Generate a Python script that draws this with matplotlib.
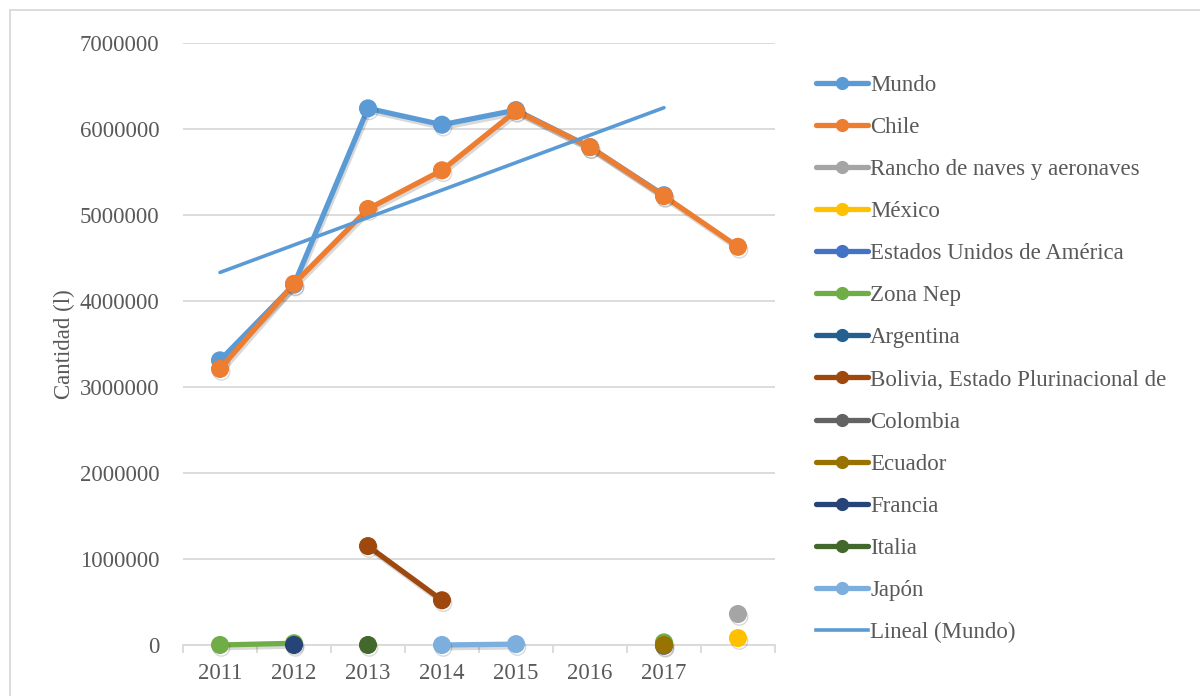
import numpy as np
import matplotlib
matplotlib.use("Agg")
import matplotlib.pyplot as plt
from matplotlib.lines import Line2D
import matplotlib.patheffects as pe

plt.rcParams['font.family'] = ['Liberation Serif', 'DejaVu Serif']

# Categories (8th position has no label in the original)
years = ['2011', '2012', '2013', '2014', '2015', '2016', '2017', '']
nan = np.nan

mundo = [3310000, 4190000, 6240000, 6050000, 6220000, 5790000, 5230000, nan]
chile = [3210000, 4200000, 5070000, 5520000, 6210000, 5790000, 5220000, 4630000]
rancho = [nan, nan, nan, nan, nan, nan, nan, 360000]
mexico = [nan, nan, nan, nan, nan, nan, nan, 80000]
eeuu = [nan] * 8
zona_nep = [0, 20000, nan, nan, nan, nan, 30000, nan]
argentina = [nan] * 8
bolivia = [nan, nan, 1150000, 520000, nan, nan, nan, nan]
colombia = [nan, nan, nan, nan, nan, nan, -10000, nan]
ecuador = [nan, nan, nan, nan, nan, nan, 0, nan]
francia = [nan, 0, nan, nan, nan, nan, nan, nan]
italia = [nan, nan, 0, nan, nan, nan, nan, nan]
japon = [nan, nan, nan, 0, 10000, nan, nan, nan]

series = [
    ('Mundo', mundo, '#5B9BD5'),
    ('Chile', chile, '#ED7D31'),
    ('Rancho de naves y aeronaves', rancho, '#A5A5A5'),
    ('México', mexico, '#FFC000'),
    ('Estados Unidos de América', eeuu, '#4472C4'),
    ('Zona Nep', zona_nep, '#70AD47'),
    ('Argentina', argentina, '#255E91'),
    ('Bolivia, Estado Plurinacional de', bolivia, '#9E480E'),
    ('Colombia', colombia, '#636363'),
    ('Ecuador', ecuador, '#997300'),
    ('Francia', francia, '#264478'),
    ('Italia', italia, '#43682B'),
    ('Japón', japon, '#7CAFDD'),
]

text_color = '#595959'
grid_color = '#D9D9D9'
fs = 16.5

fig = plt.figure(figsize=(12, 6.96), dpi=100)
ax = fig.add_axes([0.1525, 0.0733, 0.4933, 0.8649])

x = np.arange(len(years))
shadow = [pe.SimpleLineShadow(offset=(1, -2), shadow_color='black', alpha=0.15), pe.Normal()]

handles = []
for name, vals, color in series:
    ax.plot(x, vals, color=color, lw=3.8, marker='o', markersize=12,
            clip_on=False, zorder=3, path_effects=shadow, solid_capstyle='round')
    handles.append(Line2D([], [], color=color, lw=3.8, marker='o', markersize=8.5,
                          solid_capstyle='round', label=name))

# linear trend of Mundo
valid = ~np.isnan(np.array(mundo))
coef = np.polyfit(x[valid], np.array(mundo)[valid], 1)
tx = x[valid]
ax.plot(tx, np.polyval(coef, tx), color='#5B9BD5', lw=2.6, zorder=4, solid_capstyle='round')
handles.append(Line2D([], [], color='#5B9BD5', lw=2.6, label='Lineal (Mundo)'))

ax.set_xlim(-0.5, len(years) - 0.5)
ax.set_ylim(0, 7000000)
ax.set_yticks(np.arange(0, 7000001, 1000000))
ax.set_yticklabels([str(v) for v in range(0, 7000001, 1000000)])
ax.grid(axis='y', color=grid_color, lw=1.3)
ax.set_axisbelow(True)
for s in ['top', 'right', 'left']:
    ax.spines[s].set_visible(False)
ax.spines['bottom'].set_color(grid_color)
ax.spines['bottom'].set_linewidth(1.3)
ax.spines['bottom'].set_zorder(1)

ax.set_xticks(x)
ax.set_xticklabels(years)
ax.set_xticks(np.arange(-0.5, len(years), 1), minor=True)
ax.tick_params(axis='x', which='major', length=0, pad=13, labelsize=fs, labelcolor=text_color)
ax.tick_params(axis='x', which='minor', length=6, width=1.3, color=grid_color)
ax.tick_params(axis='y', length=0, pad=17, labelsize=fs, labelcolor=text_color)
ax.set_ylabel('Cantidad (l)', fontsize=fs, color=text_color, labelpad=3)

fig.legend(handles=handles, loc='upper left', bbox_to_anchor=(0.672, 0.906),
           frameon=False, fontsize=fs, labelcolor=text_color, handlelength=2.3,
           handletextpad=0.08, labelspacing=0.92, borderaxespad=0)

# outer chart border
fig.patches.append(plt.Rectangle((10 / 1200, -0.05), 1.2, 1 - 10 / 696 + 0.05,
                                 transform=fig.transFigure, fill=False,
                                 edgecolor=grid_color, lw=1.3))

fig.savefig('out.png', dpi=100)
